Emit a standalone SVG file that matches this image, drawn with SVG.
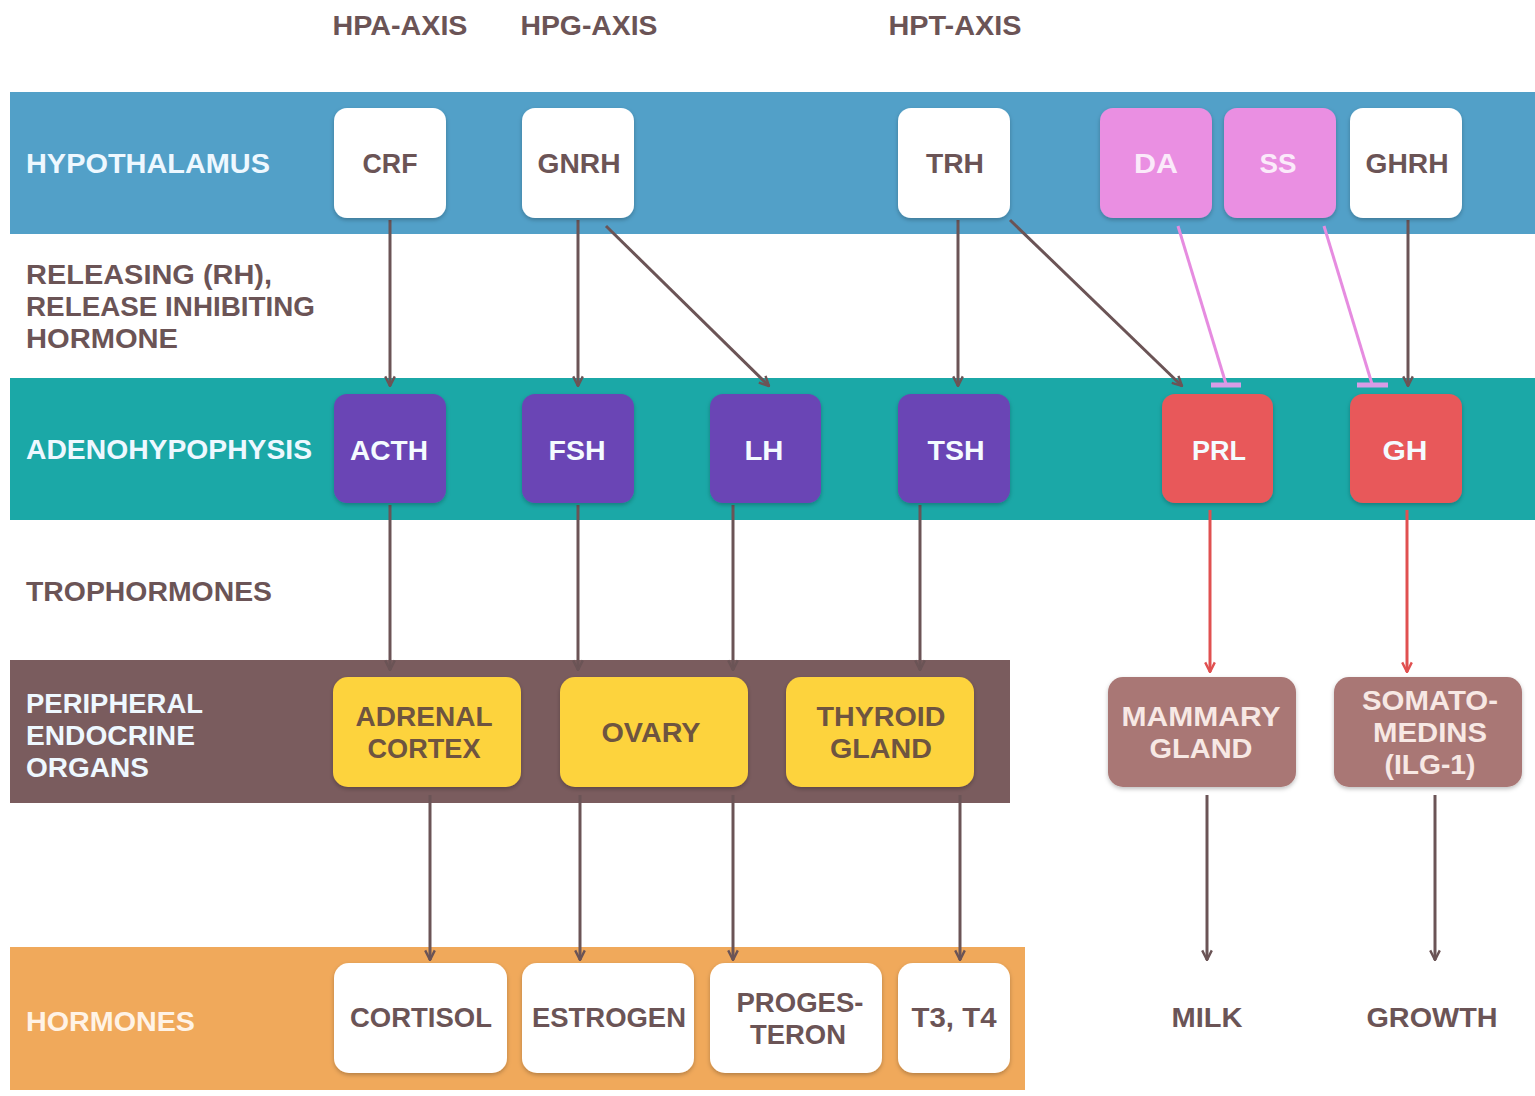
<svg xmlns="http://www.w3.org/2000/svg" width="1535" height="1096" viewBox="0 0 1535 1096">
<style>
text{font-family:"Liberation Sans",Arial,sans-serif;font-weight:bold;font-size:27px;text-anchor:middle}
.lbl{text-anchor:start}
.dk{fill:#6b5456}
.wt{fill:#f4fbff}
.bandtxt{fill:#eef8ff}
.nw{fill:#ffffff}
.np{fill:#6a45b5}
.nr{fill:#e8585a}
.ny{fill:#fdd33c}
.nm{fill:#a97775}
.nk{fill:#ea8fe2}
.ln{stroke:#6b5456;stroke-width:3;fill:none}
.red{stroke:#e05050;stroke-width:3;fill:none}
.pk{stroke:#e68ce0;stroke-width:3;fill:none}
</style>
<defs>
<marker id="ah" viewBox="0 0 10 10" refX="9" refY="5" markerWidth="4" markerHeight="4" orient="auto" markerUnits="strokeWidth"><path d="M1,1 L9,5 L1,9" fill="none" stroke="#6b5456" stroke-width="2"/></marker>
<marker id="ahr" viewBox="0 0 10 10" refX="9" refY="5" markerWidth="4" markerHeight="4" orient="auto" markerUnits="strokeWidth"><path d="M1,1 L9,5 L1,9" fill="none" stroke="#e05050" stroke-width="2"/></marker>
<filter id="sh" x="-10%" y="-10%" width="120%" height="125%"><feDropShadow dx="0" dy="2" stdDeviation="2" flood-opacity="0.25"/></filter>
</defs>
<rect width="1535" height="1096" fill="#ffffff"/>
<g id="bands">
<rect x="10" y="92" width="1525" height="142" fill="#52a0c8"/>
<rect x="10" y="378" width="1525" height="142" fill="#1ba8a7"/>
<rect x="10" y="660" width="1000" height="143" fill="#7a5c5e"/>
<rect x="10" y="947" width="1015" height="143" fill="#f0a95b"/>
</g>
<g id="headers">
<text x="400" y="35" class="dk" textLength="135" lengthAdjust="spacingAndGlyphs">HPA-AXIS</text>
<text x="589" y="35" class="dk" textLength="137" lengthAdjust="spacingAndGlyphs">HPG-AXIS</text>
<text x="955" y="35" class="dk" textLength="133" lengthAdjust="spacingAndGlyphs">HPT-AXIS</text>
</g>
<g id="rowlabels">
<text x="26" y="173" class="lbl bandtxt" textLength="244" lengthAdjust="spacingAndGlyphs">HYPOTHALAMUS</text>
<text x="26" y="284" class="lbl dk" textLength="246" lengthAdjust="spacingAndGlyphs">RELEASING (RH),</text>
<text x="26" y="316" class="lbl dk" textLength="289" lengthAdjust="spacingAndGlyphs">RELEASE INHIBITING</text>
<text x="26" y="348" class="lbl dk" textLength="152" lengthAdjust="spacingAndGlyphs">HORMONE</text>
<text x="26" y="459" class="lbl bandtxt" textLength="286" lengthAdjust="spacingAndGlyphs">ADENOHYPOPHYSIS</text>
<text x="26" y="601" class="lbl dk" textLength="246" lengthAdjust="spacingAndGlyphs">TROPHORMONES</text>
<text x="26" y="713" class="lbl bandtxt" textLength="177" lengthAdjust="spacingAndGlyphs">PERIPHERAL</text>
<text x="26" y="745" class="lbl bandtxt" textLength="169" lengthAdjust="spacingAndGlyphs">ENDOCRINE</text>
<text x="26" y="777" class="lbl bandtxt" textLength="123" lengthAdjust="spacingAndGlyphs">ORGANS</text>
<text x="26" y="1031" class="lbl" fill="#fff3e6" textLength="169" lengthAdjust="spacingAndGlyphs">HORMONES</text>
</g>
<g id="connectors">
<line x1="390" y1="220" x2="390" y2="386" class="ln" marker-end="url(#ah)"/>
<line x1="578" y1="220" x2="578" y2="386" class="ln" marker-end="url(#ah)"/>
<line x1="606" y1="226" x2="769" y2="386" class="ln" marker-end="url(#ah)"/>
<line x1="958" y1="220" x2="958" y2="386" class="ln" marker-end="url(#ah)"/>
<line x1="1010" y1="220" x2="1182" y2="386" class="ln" marker-end="url(#ah)"/>
<line x1="1408" y1="220" x2="1408" y2="386" class="ln" marker-end="url(#ah)"/>
<line x1="1178" y1="226" x2="1226" y2="384" class="pk"/>
<line x1="1211" y1="385" x2="1241" y2="385" stroke="#d89ce6" stroke-width="5"/>
<line x1="1324" y1="226" x2="1372" y2="384" class="pk"/>
<line x1="1357" y1="385" x2="1388" y2="385" stroke="#d89ce6" stroke-width="5"/>
<line x1="390" y1="505" x2="390" y2="670" class="ln" marker-end="url(#ah)"/>
<line x1="578" y1="505" x2="578" y2="670" class="ln" marker-end="url(#ah)"/>
<line x1="733" y1="505" x2="733" y2="670" class="ln" marker-end="url(#ah)"/>
<line x1="920" y1="505" x2="920" y2="670" class="ln" marker-end="url(#ah)"/>
<line x1="1210" y1="510" x2="1210" y2="672" class="red" marker-end="url(#ahr)"/>
<line x1="1407" y1="510" x2="1407" y2="672" class="red" marker-end="url(#ahr)"/>
<line x1="430" y1="795" x2="430" y2="960" class="ln" marker-end="url(#ah)"/>
<line x1="580" y1="795" x2="580" y2="960" class="ln" marker-end="url(#ah)"/>
<line x1="733" y1="795" x2="733" y2="960" class="ln" marker-end="url(#ah)"/>
<line x1="960" y1="795" x2="960" y2="960" class="ln" marker-end="url(#ah)"/>
<line x1="1207" y1="795" x2="1207" y2="960" class="ln" marker-end="url(#ah)"/>
<line x1="1435" y1="795" x2="1435" y2="960" class="ln" marker-end="url(#ah)"/>
</g>
<g id="n-crf"><rect x="334" y="108" width="112" height="110" rx="13" class="nw" filter="url(#sh)"/><text x="390" y="173" class="dk" textLength="55" lengthAdjust="spacingAndGlyphs">CRF</text></g>
<g id="n-gnrh"><rect x="522" y="108" width="112" height="110" rx="13" class="nw" filter="url(#sh)"/><text x="579" y="173" class="dk" textLength="83" lengthAdjust="spacingAndGlyphs">GNRH</text></g>
<g id="n-trh"><rect x="898" y="108" width="112" height="110" rx="13" class="nw" filter="url(#sh)"/><text x="955" y="173" class="dk" textLength="58" lengthAdjust="spacingAndGlyphs">TRH</text></g>
<g id="n-da"><rect x="1100" y="108" width="112" height="110" rx="13" class="nk" filter="url(#sh)"/><text x="1156" y="173" fill="#fbeafa" textLength="44" lengthAdjust="spacingAndGlyphs">DA</text></g>
<g id="n-ss"><rect x="1224" y="108" width="112" height="110" rx="13" class="nk" filter="url(#sh)"/><text x="1278" y="173" fill="#fbeafa" textLength="37" lengthAdjust="spacingAndGlyphs">SS</text></g>
<g id="n-ghrh"><rect x="1350" y="108" width="112" height="110" rx="13" class="nw" filter="url(#sh)"/><text x="1407" y="173" class="dk" textLength="83" lengthAdjust="spacingAndGlyphs">GHRH</text></g>
<g id="n-acth"><rect x="334" y="394" width="112" height="109" rx="13" class="np" filter="url(#sh)"/><text x="389" y="460" class="wt" textLength="78" lengthAdjust="spacingAndGlyphs">ACTH</text></g>
<g id="n-fsh"><rect x="522" y="394" width="112" height="109" rx="13" class="np" filter="url(#sh)"/><text x="577" y="460" class="wt" textLength="57" lengthAdjust="spacingAndGlyphs">FSH</text></g>
<g id="n-lh"><rect x="710" y="394" width="111" height="109" rx="13" class="np" filter="url(#sh)"/><text x="764" y="460" class="wt" textLength="39" lengthAdjust="spacingAndGlyphs">LH</text></g>
<g id="n-tsh"><rect x="898" y="394" width="112" height="109" rx="13" class="np" filter="url(#sh)"/><text x="956" y="460" class="wt" textLength="57" lengthAdjust="spacingAndGlyphs">TSH</text></g>
<g id="n-prl"><rect x="1162" y="394" width="111" height="109" rx="13" class="nr" filter="url(#sh)"/><text x="1219" y="460" class="wt" textLength="54" lengthAdjust="spacingAndGlyphs">PRL</text></g>
<g id="n-gh"><rect x="1350" y="394" width="112" height="109" rx="13" class="nr" filter="url(#sh)"/><text x="1405" y="460" class="wt" textLength="45" lengthAdjust="spacingAndGlyphs">GH</text></g>
<g id="n-adrenal"><rect x="333" y="677" width="188" height="110" rx="15" class="ny" filter="url(#sh)"/><text x="424" y="726" fill="#6e5440" textLength="137" lengthAdjust="spacingAndGlyphs">ADRENAL</text><text x="424" y="758" fill="#6e5440" textLength="113" lengthAdjust="spacingAndGlyphs">CORTEX</text></g>
<g id="n-ovary"><rect x="560" y="677" width="188" height="110" rx="15" class="ny" filter="url(#sh)"/><text x="651" y="742" fill="#6e5440" textLength="99" lengthAdjust="spacingAndGlyphs">OVARY</text></g>
<g id="n-thyroid"><rect x="786" y="677" width="188" height="110" rx="15" class="ny" filter="url(#sh)"/><text x="881" y="726" fill="#6e5440" textLength="129" lengthAdjust="spacingAndGlyphs">THYROID</text><text x="881" y="758" fill="#6e5440" textLength="102" lengthAdjust="spacingAndGlyphs">GLAND</text></g>
<g id="n-mammary"><rect x="1108" y="677" width="188" height="110" rx="15" class="nm" filter="url(#sh)"/><text x="1201" y="726" fill="#f7e8e4" textLength="159" lengthAdjust="spacingAndGlyphs">MAMMARY</text><text x="1201" y="758" fill="#f7e8e4" textLength="103" lengthAdjust="spacingAndGlyphs">GLAND</text></g>
<g id="n-somato"><rect x="1334" y="677" width="188" height="110" rx="15" class="nm" filter="url(#sh)"/><text x="1430" y="710" fill="#f7e8e4" textLength="136" lengthAdjust="spacingAndGlyphs">SOMATO-</text><text x="1430" y="742" fill="#f7e8e4" textLength="114" lengthAdjust="spacingAndGlyphs">MEDINS</text><text x="1430" y="774" fill="#f7e8e4" textLength="91" lengthAdjust="spacingAndGlyphs">(ILG-1)</text></g>
<g id="n-cortisol"><rect x="334" y="963" width="173" height="110" rx="15" class="nw" filter="url(#sh)"/><text x="421" y="1027" class="dk" textLength="142" lengthAdjust="spacingAndGlyphs">CORTISOL</text></g>
<g id="n-estrogen"><rect x="522" y="963" width="172" height="110" rx="15" class="nw" filter="url(#sh)"/><text x="609" y="1027" class="dk" textLength="154" lengthAdjust="spacingAndGlyphs">ESTROGEN</text></g>
<g id="n-progesteron"><rect x="710" y="963" width="172" height="110" rx="15" class="nw" filter="url(#sh)"/><text x="800" y="1012" class="dk" textLength="127" lengthAdjust="spacingAndGlyphs">PROGES-</text><text x="798" y="1044" class="dk" textLength="96" lengthAdjust="spacingAndGlyphs">TERON</text></g>
<g id="n-t3t4"><rect x="898" y="963" width="112" height="110" rx="15" class="nw" filter="url(#sh)"/><text x="954" y="1027" class="dk" textLength="85" lengthAdjust="spacingAndGlyphs">T3, T4</text></g>
<g id="n-milk"><text x="1207" y="1027" class="dk" textLength="71" lengthAdjust="spacingAndGlyphs">MILK</text></g>
<g id="n-growth"><text x="1432" y="1027" class="dk" textLength="131" lengthAdjust="spacingAndGlyphs">GROWTH</text></g>
</svg>
